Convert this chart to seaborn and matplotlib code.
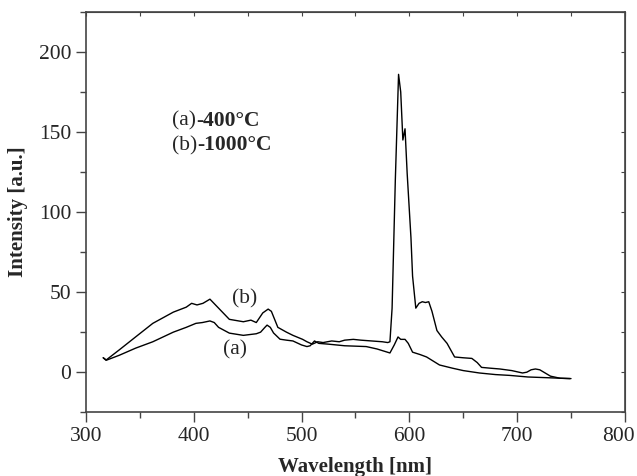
import numpy as np
import pandas as pd
import matplotlib
matplotlib.use('Agg')
import matplotlib.pyplot as plt
import matplotlib.transforms as mtransforms
import seaborn as sns

# curve (a) - 400 C
a_x = [316, 319, 331, 346, 362, 381, 393, 402, 408, 415, 419, 423, 433, 446, 458, 462,
       466, 468, 471, 474, 480, 486, 492, 500, 505, 508, 512, 516, 525, 540, 560, 570,
       582, 586, 589.5, 592, 596, 599, 603, 610, 616, 622, 628, 640, 650, 665, 680, 693,
       710, 730, 749]
a_y = [9, 7.5, 10.6, 15, 19, 25, 28, 30.5, 31, 32, 31, 28, 24.4, 23, 24, 25,
       28, 29.4, 28, 24.5, 20.6, 20, 19.5, 17, 16, 16.5, 19.5, 18, 17.5, 16.5, 16, 14.5,
       12, 17, 22, 20.5, 20.5, 18, 12.5, 11, 9.5, 7, 4.5, 2.5, 1, -0.5, -1.5, -2,
       -3, -3.5, -4]

# curve (b) - 1000 C
b_x = [316, 318.5, 331, 346, 362, 381, 393, 398, 403, 408.5, 415, 423, 433, 446, 453,
       458, 464, 469, 472, 478, 486, 492, 501, 505, 510, 515, 520, 528, 535, 540, 548,
       555, 565, 575, 580, 582, 584, 587, 590, 592, 594, 596, 598, 601.5, 603, 606,
       609, 612, 615, 618, 621, 625.6, 630, 635, 642, 650, 658, 663, 667, 675, 684,
       695, 705, 709, 713, 717, 721, 726, 731, 740, 750]
b_y = [9, 7.5, 14, 22, 30.5, 37.5, 40.6, 43, 42, 43, 45.6, 40, 33, 31.5, 32.5,
       31, 37, 39.4, 38, 28, 25, 23, 20.5, 19, 17.5, 19, 18.5, 19.5, 19, 20, 20.5,
       20, 19.5, 19, 18.5, 19, 40, 120, 186, 175, 145, 152, 124, 84, 60, 40,
       43, 44, 43.5, 44, 38, 26, 22, 18, 9.5, 9, 8.6, 6, 3, 2.5, 2,
       1, -0.5, 0, 1.5, 2, 1.5, -0.5, -2.5, -3.8, -4]

sns.set_style('ticks')
plt.rcParams['font.family'] = ['Liberation Serif', 'DejaVu Serif']
plt.rcParams['axes.edgecolor'] = '#444444'

fig = plt.figure(figsize=(6.37, 4.76), dpi=100)
ax = fig.add_axes([0.135, 0.134, 0.846, 0.841])

sns.lineplot(x=a_x, y=a_y, ax=ax, color='black', linewidth=1, sort=False, estimator=None)
sns.lineplot(x=b_x, y=b_y, ax=ax, color='black', linewidth=1, sort=False, estimator=None)

ax.set_xlim(300, 800)
ax.set_ylim(-25, 225)
ax.set_xticks(np.arange(300, 801, 100))
ax.set_xticks(np.arange(350, 800, 100), minor=True)
ax.set_yticks(np.arange(0, 201, 50))
ax.set_yticks(np.arange(-25, 226, 50), minor=True)
ax.tick_params(which='major', direction='out', length=7, width=1, labelsize=15.5, color='#444444')
ax.tick_params(which='minor', direction='out', length=4, width=1, color='#444444')
for s in ax.spines.values():
    s.set_linewidth(1.2)

# last x label sits a bit left so it stays inside the figure
lbl = ax.get_xticklabels()[-1]
lbl.set_transform(lbl.get_transform() + mtransforms.ScaledTranslation(-6 / 100, 0, fig.dpi_scale_trans))

# inward ticks on top and right
top = ax.secondary_xaxis('top')
top.set_xticks(np.arange(300, 801, 50))
top.tick_params(direction='in', length=3, labeltop=False, color='#444444')
top.set_xticklabels([])
right = ax.secondary_yaxis('right')
right.set_yticks(np.arange(-25, 226, 25))
right.tick_params(direction='in', length=3, color='#444444')
right.set_yticklabels([])

ax.set_xlabel('Wavelength [nm]', fontsize=15, fontweight='bold', labelpad=8)
ax.set_ylabel('Intensity [a.u.]', fontsize=15, fontweight='bold', labelpad=8)

ax.text(447, 46, '(b)', fontsize=15.5, ha='center', va='center')
ax.text(438, 14, '(a)', fontsize=15.5, ha='center', va='center')

# "(a)-400°C" / "(b)-1000°C": normal prefix, bold rest, placed right after the prefix
fig.canvas.draw()
r = fig.canvas.get_renderer()
for yy, pre, rest in [(154, '(a)', '-400°C'), (138.5, '(b)', '-1000°C')]:
    t = ax.text(380, yy, pre, fontsize=15.5, ha='left', va='baseline')
    bb = t.get_window_extent(renderer=r)
    x_end = ax.transData.inverted().transform((bb.x1, bb.y0))[0]
    ax.text(x_end, yy, rest, fontsize=15.5, fontweight='bold', ha='left', va='baseline')

fig.savefig('out.png', dpi=100)
